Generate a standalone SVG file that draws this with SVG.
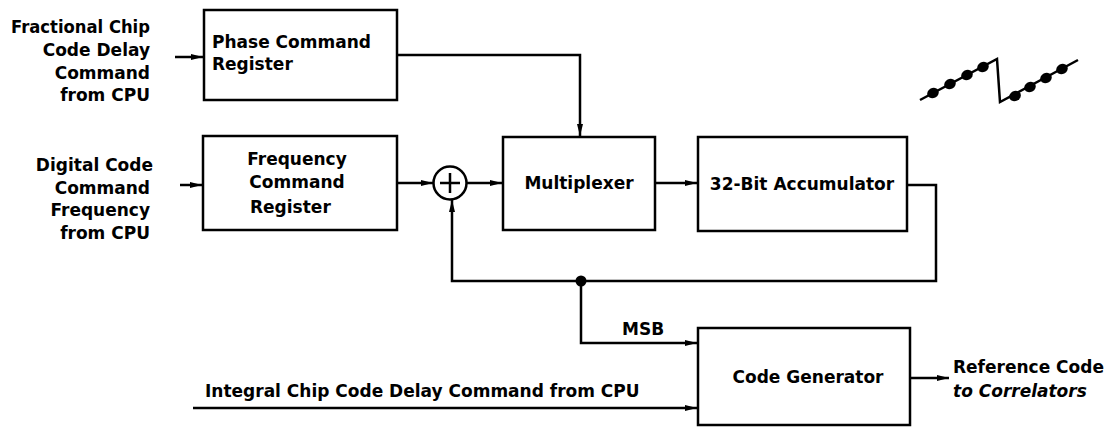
<svg xmlns="http://www.w3.org/2000/svg" width="1111" height="427" viewBox="0 0 1111 427">
<style>
text{font-family:"DejaVu Sans","Liberation Sans",sans-serif;font-weight:bold;font-size:17px;fill:#000}
.lbl{text-anchor:end}
.mid{text-anchor:middle}
.box{fill:#fff;stroke:#000;stroke-width:2.5}
.wire{fill:none;stroke:#000;stroke-width:2.5;stroke-linejoin:miter}
.arr{marker-end:url(#ah)}
</style>
<defs>
<marker id="ah" viewBox="0 0 12 8" refX="12" refY="4" markerWidth="12" markerHeight="8" markerUnits="userSpaceOnUse" orient="auto">
<path d="M0,1 L12,4 L0,7 Z" fill="#000"/>
</marker>
</defs>
<rect width="1111" height="427" fill="#fff"/>

<g id="input-fractional">
<text class="lbl" x="150" y="33" textLength="139" lengthAdjust="spacingAndGlyphs">Fractional Chip</text>
<text class="lbl" x="150" y="56">Code Delay</text>
<text class="lbl" x="150" y="79">Command</text>
<text class="lbl" x="150" y="101">from CPU</text>
</g>
<g id="input-digital">
<text class="lbl" x="153" y="171">Digital Code</text>
<text class="lbl" x="150" y="194">Command</text>
<text class="lbl" x="150" y="216">Frequency</text>
<text class="lbl" x="150" y="239">from CPU</text>
</g>

<g id="phase-command-register">
<rect class="box" x="204" y="10" width="193" height="90"/>
<text x="212" y="48">Phase Command</text>
<text x="212" y="70">Register</text>
</g>
<g id="frequency-command-register">
<rect class="box" x="203" y="136" width="194" height="94"/>
<text class="mid" x="297" y="165">Frequency</text>
<text class="mid" x="297" y="188">Command</text>
<text x="250" y="213">Register</text>
</g>
<g id="summer">
<circle cx="450" cy="183" r="16.5" fill="#fff" stroke="#000" stroke-width="2.5"/>
<path d="M440,183 H460 M450,173 V193" stroke="#000" stroke-width="2.5"/>
</g>
<g id="multiplexer">
<rect class="box" x="503" y="137" width="152" height="93"/>
<text class="mid" x="579" y="189">Multiplexer</text>
</g>
<g id="accumulator">
<rect class="box" x="698" y="137" width="209" height="94"/>
<text class="mid" x="802" y="190">32-Bit Accumulator</text>
</g>
<g id="code-generator">
<rect class="box" x="698" y="328" width="212" height="97"/>
<text class="mid" x="808" y="383">Code Generator</text>
</g>
<g id="output-label">
<text x="953" y="373">Reference Code</text>
<text x="953" y="397" font-style="italic">to Correlators</text>
</g>
<g id="integral-label">
<text x="205" y="397">Integral Chip Code Delay Command from CPU</text>
</g>
<g id="msb-label">
<text x="622" y="335">MSB</text>
</g>
<g id="sawtooth">
<polyline points="920,100 997,59 1000,102 1078,60" fill="none" stroke="#000" stroke-width="2.5" stroke-linejoin="miter"/>
<g fill="#000">
<ellipse cx="933" cy="93" rx="6" ry="5" transform="rotate(-28 933 93)"/>
<ellipse cx="950" cy="84" rx="6" ry="5" transform="rotate(-28 950 84)"/>
<ellipse cx="967" cy="75" rx="6" ry="5" transform="rotate(-28 967 75)"/>
<ellipse cx="983" cy="67" rx="6" ry="5" transform="rotate(-28 983 67)"/>
<ellipse cx="1015" cy="96" rx="6" ry="5" transform="rotate(-28 1015 96)"/>
<ellipse cx="1030" cy="87" rx="6" ry="5" transform="rotate(-28 1030 87)"/>
<ellipse cx="1046" cy="78" rx="6" ry="5" transform="rotate(-28 1046 78)"/>
<ellipse cx="1062" cy="69" rx="6" ry="5" transform="rotate(-28 1062 69)"/>
</g>
</g>

<g id="connectors">
<path class="wire arr" d="M175,57 H203"/>
<path class="wire arr" d="M180,185 H202"/>
<path class="wire arr" d="M397,55 H580 V136"/>
<path class="wire arr" d="M397,183 H433"/>
<path class="wire arr" d="M467,183 H502"/>
<path class="wire arr" d="M655,183 H697"/>
<path class="wire arr" d="M907,185 H936 V281 H452 V200"/>
<circle cx="581" cy="281" r="5.5" fill="#000"/>
<path class="wire arr" d="M581,281 V343 H697"/>
<path class="wire arr" d="M193,408 H697"/>
<path class="wire arr" d="M911,378 H949"/>
</g>
</svg>
